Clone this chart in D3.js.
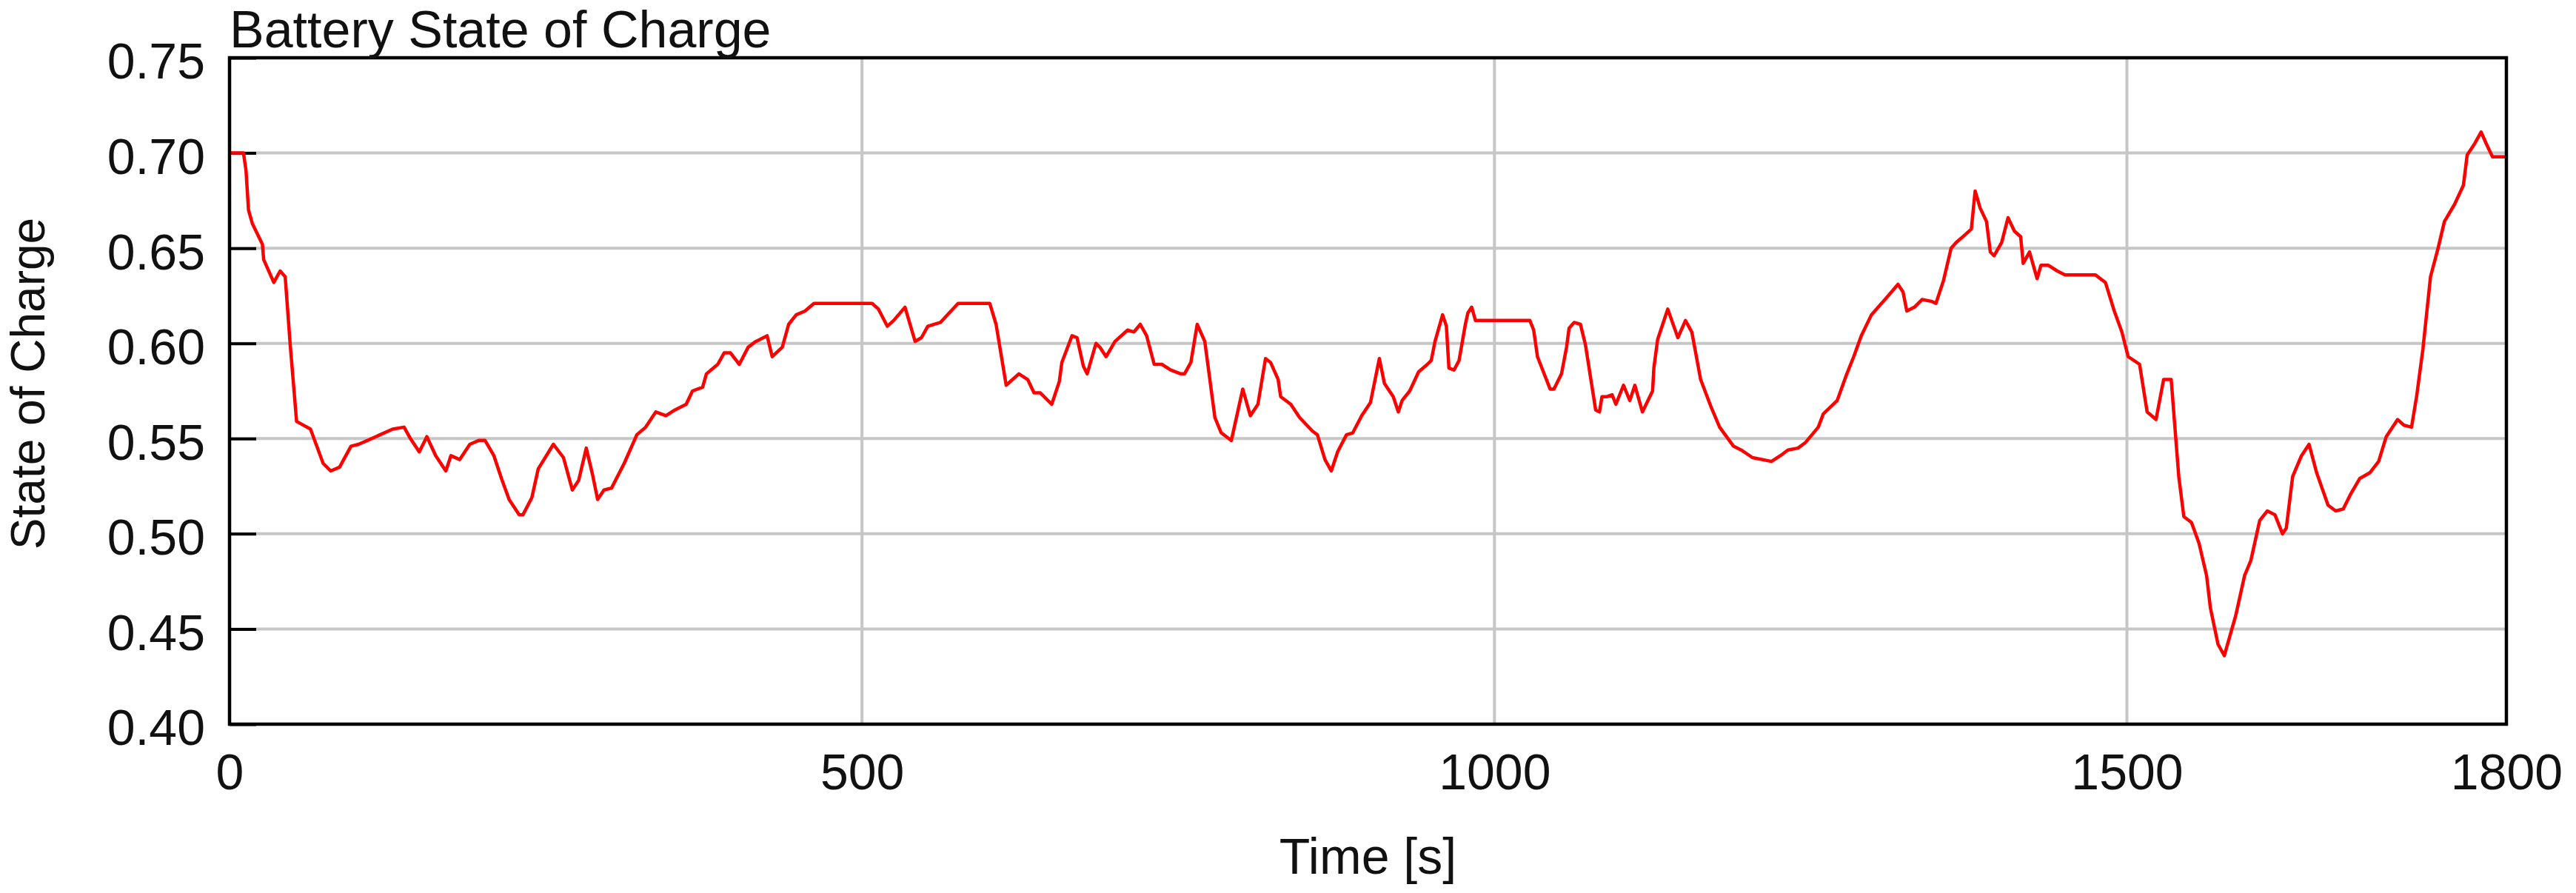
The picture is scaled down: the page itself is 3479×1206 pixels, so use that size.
<!DOCTYPE html>
<html>
<head>
<meta charset="utf-8">
<title>Battery State of Charge</title>
<script src="https://cdn.jsdelivr.net/npm/d3@7"></script>
<style>
  html, body { margin: 0; padding: 0; background: #fff; }
  svg { display: block; }
  text { font-family: "Liberation Sans", Arial, sans-serif; fill: #111; }
</style>
</head>
<body>
<svg id="chart"></svg>
<script>
/* ──────────────────────────────────────────────────────────────
   Battery State of Charge — single red trace over 0..1800 s
   ────────────────────────────────────────────────────────────── */

// time [s]
const TIME = [
  0, 11, 13, 15, 18, 26, 27, 35, 40, 44, 48, 53, 64, 74, 80, 87, 96, 102, 109, 119,
  129, 138, 143, 150, 156, 163, 171, 175, 182, 190, 197, 202, 209, 215, 221, 229, 232, 239, 244, 256,
  264, 271, 276, 282, 287, 291, 296, 302, 312, 318, 322, 329, 337, 345, 352, 361, 366, 374, 377, 386,
  391, 396, 403, 410, 416, 425, 429, 437, 442, 448, 455, 462, 508, 513, 520, 525, 534, 542, 547, 552,
  562, 569, 576, 601, 606, 614, 624, 631, 636, 641, 650, 656, 658, 666, 670, 675, 678, 685, 688, 693,
  700, 710, 715, 720, 725, 731, 737, 744, 752, 755, 760, 765, 771, 779, 784, 792, 801, 807, 813, 819,
  823, 829, 831, 839, 846, 856, 860, 866, 871, 876, 883, 888, 895, 902, 909, 913, 920, 924, 927, 933,
  940, 947, 950, 953, 959, 962, 964, 968, 972, 977, 979, 982, 985, 1028, 1031, 1034, 1044, 1047, 1053, 1057,
  1059, 1063, 1068, 1072, 1080, 1083, 1085, 1089, 1093, 1096, 1102, 1107, 1111, 1117, 1125, 1126, 1129, 1137, 1145, 1151,
  1156, 1163, 1171, 1178, 1189, 1195, 1204, 1219, 1226, 1232, 1240, 1246, 1256, 1260, 1271, 1278, 1284, 1290, 1298, 1310,
  1319, 1323, 1326, 1332, 1338, 1346, 1349, 1355, 1361, 1365, 1372, 1377, 1380, 1384, 1389, 1392, 1395, 1401, 1406, 1411,
  1416, 1418, 1423, 1429, 1432, 1438, 1445, 1451, 1475, 1483, 1490, 1496, 1501, 1510, 1516, 1523, 1529, 1535, 1541, 1545,
  1551, 1557, 1563, 1566, 1572, 1577, 1586, 1593, 1598, 1605, 1611, 1617, 1623, 1626, 1631, 1638, 1644, 1650, 1659, 1665,
  1671, 1677, 1684, 1692, 1699, 1705, 1714, 1719, 1725, 1729, 1734, 1740, 1746, 1751, 1759, 1766, 1769, 1775, 1780, 1784,
  1789, 1800
];

// state of charge at each time above
const SOC = [
  0.700, 0.700, 0.691, 0.670, 0.663, 0.652, 0.644, 0.632, 0.638, 0.635, 0.599, 0.559, 0.555, 0.537, 0.533, 0.535, 0.546, 0.547, 0.549, 0.552,
  0.555, 0.556, 0.550, 0.543, 0.551, 0.541, 0.533, 0.541, 0.539, 0.547, 0.549, 0.549, 0.541, 0.529, 0.518, 0.510, 0.510, 0.519, 0.534, 0.547,
  0.540, 0.523, 0.528, 0.545, 0.531, 0.518, 0.523, 0.524, 0.537, 0.546, 0.552, 0.556, 0.564, 0.562, 0.565, 0.568, 0.575, 0.577, 0.584, 0.589,
  0.595, 0.595, 0.589, 0.598, 0.601, 0.604, 0.593, 0.598, 0.610, 0.615, 0.617, 0.621, 0.621, 0.618, 0.609, 0.612, 0.619, 0.601, 0.603, 0.609,
  0.611, 0.616, 0.621, 0.621, 0.610, 0.578, 0.584, 0.581, 0.574, 0.574, 0.568, 0.580, 0.590, 0.604, 0.603, 0.588, 0.584, 0.600, 0.598, 0.593,
  0.601, 0.607, 0.606, 0.610, 0.604, 0.589, 0.589, 0.586, 0.584, 0.584, 0.590, 0.610, 0.601, 0.561, 0.553, 0.549, 0.576, 0.562, 0.568, 0.592,
  0.590, 0.581, 0.572, 0.568, 0.561, 0.554, 0.552, 0.539, 0.533, 0.543, 0.552, 0.553, 0.562, 0.569, 0.592, 0.579, 0.572, 0.564, 0.570, 0.575,
  0.585, 0.589, 0.591, 0.601, 0.615, 0.609, 0.587, 0.586, 0.591, 0.610, 0.616, 0.619, 0.612, 0.612, 0.607, 0.593, 0.576, 0.576, 0.584, 0.598,
  0.608, 0.611, 0.610, 0.599, 0.565, 0.564, 0.572, 0.572, 0.573, 0.568, 0.578, 0.570, 0.578, 0.564, 0.575, 0.587, 0.602, 0.618, 0.603, 0.612,
  0.606, 0.581, 0.567, 0.556, 0.546, 0.544, 0.540, 0.538, 0.541, 0.544, 0.545, 0.548, 0.556, 0.563, 0.570, 0.583, 0.593, 0.604, 0.615, 0.624,
  0.631, 0.627, 0.617, 0.619, 0.623, 0.622, 0.621, 0.633, 0.650, 0.653, 0.657, 0.660, 0.680, 0.671, 0.664, 0.648, 0.646, 0.653, 0.666, 0.659,
  0.656, 0.642, 0.648, 0.634, 0.641, 0.641, 0.638, 0.636, 0.636, 0.632, 0.617, 0.606, 0.593, 0.589, 0.564, 0.560, 0.581, 0.581, 0.530, 0.509,
  0.506, 0.495, 0.478, 0.461, 0.442, 0.436, 0.457, 0.478, 0.486, 0.507, 0.512, 0.510, 0.500, 0.503, 0.530, 0.541, 0.547, 0.532, 0.515, 0.512,
  0.513, 0.521, 0.529, 0.532, 0.538, 0.551, 0.560, 0.557, 0.556, 0.572, 0.597, 0.635, 0.650, 0.664, 0.673, 0.683, 0.699, 0.705, 0.711, 0.705,
  0.698, 0.698
];

const X_TICKS = [0, 500, 1000, 1500, 1800];
const X_GRID = [500, 1000, 1500];
const Y_TICKS = [0.40, 0.45, 0.50, 0.55, 0.60, 0.65, 0.70, 0.75];

const TITLE = "Battery State of Charge";
const X_LABEL = "Time [s]";
const Y_LABEL = "State of Charge";

(function () {
  const W = 3479, H = 1206;
  const m = { left: 310, right: 94, top: 78, bottom: 228 };
  const pw = W - m.left - m.right, ph = H - m.top - m.bottom;

  const svg = d3.select("#chart").attr("width", W).attr("height", H);
  svg.append("rect").attr("width", W).attr("height", H).attr("fill", "#fff");

  const x = d3.scaleLinear().domain([0, 1800]).range([0, pw]);
  const y = d3.scaleLinear().domain([0.40, 0.75]).range([ph, 0]);

  const g = svg.append("g").attr("transform", `translate(${m.left},${m.top})`);

  // clip for the trace
  svg.append("defs").append("clipPath").attr("id", "plot-clip")
    .append("rect").attr("width", pw).attr("height", ph);

  /* ── grid ───────────────────────────────────────────────────── */
  const grid = g.append("g").attr("class", "grid")
    .attr("stroke", "#c6c6c6").attr("stroke-width", 4);
  grid.selectAll("line.h")
    .data(Y_TICKS.filter(v => v > 0.40 && v < 0.75)).join("line")
    .attr("class", "h")
    .attr("x1", 0).attr("x2", pw)
    .attr("y1", d => y(d)).attr("y2", d => y(d));
  grid.selectAll("line.v")
    .data(X_GRID).join("line")
    .attr("class", "v")
    .attr("x1", d => x(d)).attr("x2", d => x(d))
    .attr("y1", 0).attr("y2", ph);

  /* ── axes ───────────────────────────────────────────────────── */
  const yAxis = g.append("g").attr("class", "y-axis")
    .call(d3.axisLeft(y).tickValues(Y_TICKS).tickFormat(d3.format(".2f"))
      .tickSizeInner(-36).tickSizeOuter(0).tickPadding(33));
  yAxis.select(".domain").remove();
  yAxis.selectAll(".tick line").attr("stroke", "#000").attr("stroke-width", 4);
  yAxis.selectAll(".tick text")
    .attr("dy", "0.41em")
    .style("font-size", "68px").style("font-family", null).attr("fill", "#111");

  const xAxis = g.append("g").attr("class", "x-axis")
    .attr("transform", `translate(0,${ph})`)
    .call(d3.axisBottom(x).tickValues(X_TICKS).tickFormat(d3.format("d"))
      .tickSizeInner(0).tickSizeOuter(0).tickPadding(40));
  xAxis.select(".domain").remove();
  xAxis.selectAll(".tick line").remove();
  xAxis.selectAll(".tick text")
    .style("font-size", "68px").style("font-family", null).attr("fill", "#111");

  /* ── trace ──────────────────────────────────────────────────── */
  const pts = TIME.map((t, i) => [t, SOC[i]]);
  const line = d3.line().x(d => x(d[0])).y(d => y(d[1])).curve(d3.curveLinear);
  g.append("path")
    .datum(pts)
    .attr("clip-path", "url(#plot-clip)")
    .attr("fill", "none")
    .attr("stroke", "#ff0000")
    .attr("stroke-width", 4.5)
    .attr("stroke-linejoin", "round")
    .attr("d", line);

  // frame
  g.append("rect")
    .attr("width", pw).attr("height", ph)
    .attr("fill", "none").attr("stroke", "#000").attr("stroke-width", 4.5);

  /* ── labels ─────────────────────────────────────────────────── */
  svg.append("text")
    .attr("x", m.left).attr("y", 64)
    .style("font-size", "70px")
    .text(TITLE);

  svg.append("text")
    .attr("x", m.left + pw / 2).attr("y", 1180)
    .attr("text-anchor", "middle")
    .style("font-size", "68px")
    .text(X_LABEL);

  svg.append("text")
    .attr("transform", `translate(60,${m.top + ph / 2 - 10}) rotate(-90)`)
    .attr("text-anchor", "middle")
    .style("font-size", "64px")
    .text(Y_LABEL);
})();
</script>
</body>
</html>
